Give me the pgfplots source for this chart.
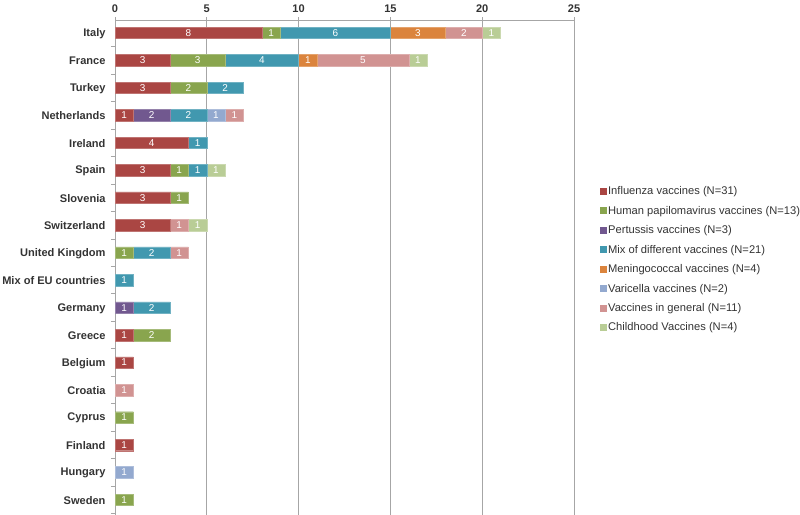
\documentclass[border=0pt]{standalone}
\usepackage{pgfplots}
\pgfplotsset{compat=1.18}
\usepackage{pgfplotstable}
\usepackage{fontspec}
\setmainfont{Liberation Sans}
\definecolor{cInf}{HTML}{AA4643}
\definecolor{cHpv}{HTML}{89A54E}
\definecolor{cPer}{HTML}{71588F}
\definecolor{cMix}{HTML}{4198AF}
\definecolor{cMen}{HTML}{DB843D}
\definecolor{cVar}{HTML}{93A9CF}
\definecolor{cGen}{HTML}{D19392}
\definecolor{cChi}{HTML}{B9CD96}
\definecolor{gridc}{HTML}{A6A6A6}
\definecolor{txt}{HTML}{333333}
\pgfplotstableread{
y infl hpv pert mix men var gen child
0 8 1 0 6 3 0 2 1
1 3 3 0 4 1 0 5 1
2 3 2 0 2 0 0 0 0
3 1 0 2 2 0 1 1 0
4 4 0 0 1 0 0 0 0
5 3 1 0 1 0 0 0 1
6 3 1 0 0 0 0 0 0
7 3 0 0 0 0 0 1 1
8 0 1 0 2 0 0 1 0
9 0 0 0 1 0 0 0 0
10 0 0 1 2 0 0 0 0
11 1 2 0 0 0 0 0 0
12 1 0 0 0 0 0 0 0
13 0 0 0 0 0 0 1 0
14 0 1 0 0 0 0 0 0
15 1 0 0 0 0 0 0 0
16 0 0 0 0 0 1 0 0
17 0 1 0 0 0 0 0 0
}\data
\begin{document}
\begin{tikzpicture}
\begin{axis}[
  at={(115bp,0bp)}, anchor=south west,
  scale only axis, width=459bp, height=495bp,
  xbar stacked, bar width=11.5bp,
  xmin=0, xmax=25, ymin=-0.47, ymax=17.55, y dir=reverse,
  enlarge x limits=false,
  axis x line*=top, axis y line*=left,
  axis line style={draw=gridc, line width=0.8bp, -},
  xtick={0,5,...,25}, ytick={0,...,17},
  yticklabels={Italy,France,Turkey,Netherlands,Ireland,Spain,Slovenia,Switzerland,United Kingdom,Mix of EU countries,Germany,Greece,Belgium,Croatia,Cyprus,Finland,Hungary,Sweden},
  minor ytick={-0.5,0.5,...,17.5},
  tick align=outside,
  major tick length=3bp, minor tick length=4bp,
  ytick style={draw=none},
  xtick style={draw=gridc, line width=0.8bp},
  minor y tick style={draw=gridc, line width=0.8bp},
  xmajorgrids, major grid style={draw=gridc, line width=0.8bp},
  /pgf/number format/assume math mode=true,
  ticklabel style={font=\bfseries\fontsize{11.1}{12}\selectfont, text=txt},
  yticklabel style={xshift=-3bp, yshift=-0.7bp},
  xticklabel style={yshift=1bp},
  point meta=explicit,
  nodes near coords={\pgfmathfloatifflags{\pgfplotspointmeta}{0}{}{\pgfmathprintnumber{\pgfplotspointmeta}}},
  every node near coord/.append style={font=\fontsize{10}{10}\selectfont, text=white, anchor=center, inner sep=0pt},
  legend style={at={(1.05,0.670)}, anchor=north west, draw=none, fill=none,
    font=\fontsize{11.2}{12}\selectfont, text=txt, row sep=7.9bp,
    nodes={inner sep=1bp}},
  legend cell align=left,
  legend image code/.code={\fill[#1, draw=none] (0bp,-3.5bp) rectangle (7bp,3.5bp);},
]
\addplot[fill=cInf, draw=cInf!75!white] table[x=infl, y=y, meta=infl] {\data};
\addplot[fill=cHpv, draw=cHpv!75!white] table[x=hpv, y=y, meta=hpv] {\data};
\addplot[fill=cPer, draw=cPer!75!white] table[x=pert, y=y, meta=pert] {\data};
\addplot[fill=cMix, draw=cMix!75!white] table[x=mix, y=y, meta=mix] {\data};
\addplot[fill=cMen, draw=cMen!75!white] table[x=men, y=y, meta=men] {\data};
\addplot[fill=cVar, draw=cVar!75!white] table[x=var, y=y, meta=var] {\data};
\addplot[fill=cGen, draw=cGen!75!white] table[x=gen, y=y, meta=gen] {\data};
\addplot[fill=cChi, draw=cChi!75!white] table[x=child, y=y, meta=child] {\data};
\legend{Influenza vaccines (N=31),Human papilomavirus vaccines (N=13),Pertussis vaccines (N=3),Mix of different vaccines (N=21),Meningococcal vaccines (N=4),Varicella vaccines (N=2),Vaccines in general (N=11),Childhood Vaccines (N=4)}
\end{axis}
\pgfresetboundingbox
\path[use as bounding box] (0,0) rectangle (800bp,515bp);
\end{tikzpicture}
\end{document}
